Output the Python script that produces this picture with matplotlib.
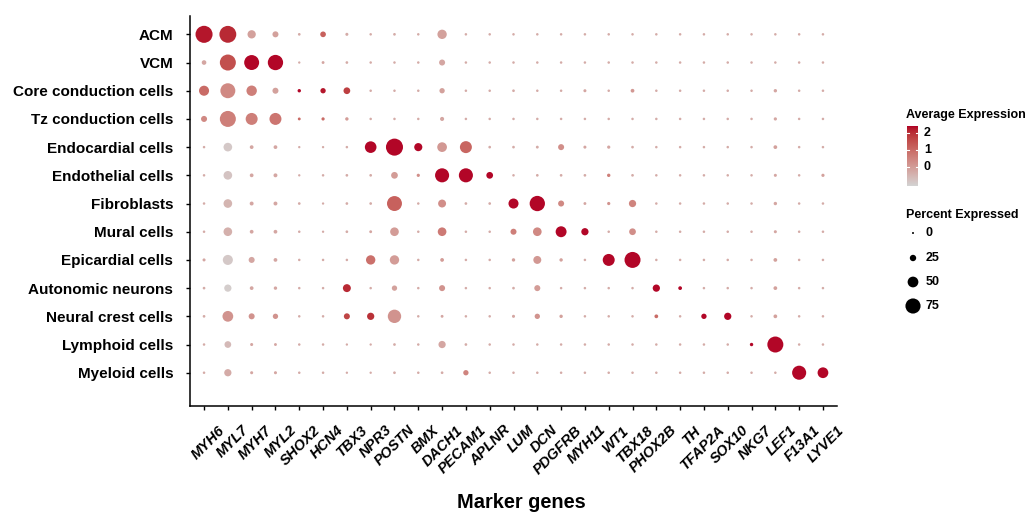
import numpy as np
import matplotlib
matplotlib.use("Agg")
import matplotlib.pyplot as plt
from matplotlib.colors import ListedColormap, Normalize
from matplotlib.transforms import ScaledTranslation, blended_transform_factory

plt.rcParams['font.family'] = ['Liberation Sans', 'DejaVu Sans']

genes = ["MYH6", "MYL7", "MYH7", "MYL2", "SHOX2", "HCN4", "TBX3", "NPR3", "POSTN", "BMX",
         "DACH1", "PECAM1", "APLNR", "LUM", "DCN", "PDGFRB", "MYH11", "WT1", "TBX18", "PHOX2B",
         "TH", "TFAP2A", "SOX10", "NKG7", "LEF1", "F13A1", "LYVE1"]
cell_types = ["ACM", "VCM", "Core conduction cells", "Tz conduction cells", "Endocardial cells",
              "Endothelial cells", "Fibroblasts", "Mural cells", "Epicardial cells",
              "Autonomic neurons", "Neural crest cells", "Lymphoid cells", "Myeloid cells"]

# Percent expressed per cell type (genes in order above)
pct_ACM = [86, 85, 36, 23, 4, 21, 6, 3, 4, 3, 42, 3, 3, 3, 3, 3, 3, 3, 3, 3, 3, 3, 3, 3, 3, 3, 3]
pct_VCM = [15, 80, 74, 76, 2, 5, 4, 3, 3, 3, 23, 3, 3, 3, 3, 3, 3, 3, 3, 3, 3, 3, 3, 3, 3, 3, 3]
pct_Core = [46, 74, 48, 23, 8, 19, 27, 3, 3, 3, 19, 3, 3, 4, 3, 3, 6, 3, 10, 3, 3, 3, 3, 3, 8, 3, 3]
pct_Tz = [23, 80, 57, 57, 5, 7, 8, 3, 3, 3, 12, 3, 3, 3, 3, 3, 3, 3, 3, 3, 3, 3, 3, 3, 7, 3, 3]
pct_Endocardial = [3, 38, 10, 10, 2, 2, 3, 55, 86, 35, 44, 57, 4, 4, 5, 23, 6, 7, 4, 3, 3, 3, 3, 3, 10, 3, 3]
pct_Endothelial = [3, 38, 10, 11, 2, 3, 4, 4, 27, 7, 69, 69, 27, 3, 4, 4, 4, 8, 4, 3, 3, 3, 3, 3, 6, 3, 7]
pct_Fibro = [3, 38, 11, 11, 4, 2, 4, 4, 74, 3, 34, 4, 4, 46, 76, 23, 5, 7, 30, 3, 3, 3, 3, 3, 8, 3, 3]
pct_Mural = [3, 38, 10, 10, 3, 2, 4, 5, 38, 3, 38, 3, 3, 23, 38, 51, 30, 3, 27, 3, 3, 3, 3, 3, 6, 3, 3]
pct_Epicardial = [6, 46, 23, 10, 3, 3, 3, 42, 42, 3, 10, 3, 3, 8, 34, 8, 3, 57, 80, 3, 3, 3, 3, 3, 10, 3, 3]
pct_Autonomic = [4, 30, 10, 8, 3, 3, 34, 3, 19, 3, 23, 3, 3, 4, 23, 3, 3, 3, 3, 30, 10, 3, 3, 3, 10, 3, 3]
pct_NeuralCrest = [4, 50, 23, 19, 3, 3, 23, 30, 65, 3, 5, 3, 3, 6, 19, 8, 3, 3, 3, 10, 3, 19, 30, 3, 10, 3, 3]
pct_Lymphoid = [3, 27, 6, 5, 3, 3, 2, 2, 4, 3, 30, 4, 3, 3, 3, 3, 3, 3, 3, 3, 3, 3, 3, 8, 80, 3, 3]
pct_Myeloid = [3, 30, 6, 6, 3, 3, 2, 2, 4, 3, 4, 19, 3, 3, 3, 3, 3, 3, 3, 3, 3, 3, 3, 3, 3, 69, 50]

# Average expression (scaled) per cell type
avg_ACM = [2.3, 2.1, -0.1, -0.1, -0.3, 1.2, -0.3, -0.3, -0.3, -0.3, -0.1, -0.3, -0.3, -0.3, -0.3, -0.3, -0.3, -0.3, -0.3, -0.3, -0.3, -0.3, -0.3, -0.3, -0.3, -0.3, -0.3]
avg_VCM = [-0.2, 1.5, 2.4, 2.4, -0.3, -0.2, -0.3, -0.3, -0.3, -0.3, -0.2, -0.3, -0.3, -0.3, -0.3, -0.3, -0.3, -0.3, -0.3, -0.3, -0.3, -0.3, -0.3, -0.3, -0.3, -0.3, -0.3]
avg_Core = [1.0, 0.4, 0.6, -0.1, 2.4, 2.3, 1.8, -0.3, -0.3, -0.3, -0.1, -0.3, -0.3, -0.3, -0.3, -0.3, -0.2, -0.3, 0.1, -0.3, -0.3, -0.3, -0.3, -0.3, -0.2, -0.3, -0.3]
avg_Tz = [0.4, 0.6, 0.6, 0.8, 1.0, 1.0, 0.0, -0.3, -0.3, -0.3, -0.2, -0.3, -0.3, -0.3, -0.3, -0.3, -0.3, -0.3, -0.3, -0.3, -0.3, -0.3, -0.3, -0.3, -0.2, -0.3, -0.3]
avg_Endocardial = [-0.3, -0.9, -0.2, -0.2, -0.3, -0.3, -0.3, 2.4, 2.4, 2.4, 0.1, 1.1, -0.3, -0.3, -0.3, 0.3, -0.2, -0.2, -0.3, -0.3, -0.3, -0.3, -0.3, -0.3, -0.1, -0.3, -0.3]
avg_Endothelial = [-0.3, -0.8, -0.2, -0.2, -0.3, -0.3, -0.3, -0.3, 0.0, 0.3, 2.4, 2.4, 2.4, -0.3, -0.3, -0.3, -0.3, 0.6, -0.3, -0.3, -0.3, -0.3, -0.3, -0.3, -0.2, -0.3, -0.1]
avg_Fibro = [-0.3, -0.5, -0.2, -0.2, -0.3, -0.3, -0.3, -0.3, 1.2, -0.3, 0.3, -0.3, -0.3, 2.4, 2.4, 0.4, -0.2, 0.2, 0.5, -0.3, -0.3, -0.3, -0.3, -0.3, -0.2, -0.3, -0.3]
avg_Mural = [-0.3, -0.4, -0.2, -0.2, -0.3, -0.3, -0.3, -0.2, 0.0, -0.3, 0.7, -0.3, -0.3, 0.6, 0.4, 2.4, 2.4, -0.3, 0.3, -0.3, -0.3, -0.3, -0.3, -0.3, -0.2, -0.3, -0.3]
avg_Epicardial = [-0.2, -0.9, -0.2, -0.2, -0.3, -0.3, -0.3, 0.9, 0.0, -0.3, 0.0, -0.3, -0.3, -0.1, 0.1, -0.1, -0.3, 2.4, 2.4, -0.3, -0.3, -0.3, -0.3, -0.3, -0.1, -0.3, -0.3]
avg_Autonomic = [-0.3, -1.0, -0.2, -0.2, -0.3, -0.3, 2.1, -0.3, -0.1, -0.3, 0.2, -0.3, -0.3, -0.3, 0.0, -0.3, -0.3, -0.3, -0.3, 2.4, 2.4, -0.3, -0.3, -0.3, -0.1, -0.3, -0.3]
avg_NeuralCrest = [-0.3, 0.2, 0.2, 0.2, -0.3, -0.3, 1.7, 2.0, 0.2, -0.3, -0.2, -0.3, -0.3, -0.2, 0.2, -0.1, -0.3, -0.3, -0.3, 1.0, -0.3, 2.4, 2.4, -0.3, -0.1, -0.3, -0.3]
avg_Lymphoid = [-0.3, -0.6, -0.2, -0.2, -0.3, -0.3, -0.3, -0.3, -0.3, -0.3, -0.2, -0.3, -0.3, -0.3, -0.3, -0.3, -0.3, -0.3, -0.3, -0.3, -0.3, -0.3, -0.3, 2.4, 2.4, -0.3, -0.3]
avg_Myeloid = [-0.3, -0.3, -0.2, -0.2, -0.3, -0.3, -0.3, -0.3, -0.3, -0.3, -0.3, 0.5, -0.3, -0.3, -0.3, -0.3, -0.3, -0.3, -0.3, -0.3, -0.3, -0.3, -0.3, -0.3, -0.3, 2.4, 2.4]

pct_all = np.array([pct_ACM, pct_VCM, pct_Core, pct_Tz, pct_Endocardial, pct_Endothelial, pct_Fibro,
                    pct_Mural, pct_Epicardial, pct_Autonomic, pct_NeuralCrest, pct_Lymphoid, pct_Myeloid], float)
avg_all = np.array([avg_ACM, avg_VCM, avg_Core, avg_Tz, avg_Endocardial, avg_Endothelial, avg_Fibro,
                    avg_Mural, avg_Epicardial, avg_Autonomic, avg_NeuralCrest, avg_Lymphoid, avg_Myeloid], float)

size_breaks = [0, 25, 50, 75]
color_breaks = [0, 1, 2]
vmin, vmax = -1.13, 2.43

# ---- Lab-interpolated colormap (lightgrey -> dark red), like ggplot's gradient ----
def hex2rgb(h):
    h = h.lstrip('#')
    return np.array([int(h[i:i + 2], 16) / 255 for i in (0, 2, 4)])

M = np.array([[0.4124, 0.3576, 0.1805], [0.2126, 0.7152, 0.0722], [0.0193, 0.1192, 0.9505]])
WP = np.array([0.95047, 1.0, 1.08883])

def rgb2lab(c):
    lin = np.where(c <= 0.04045, c / 12.92, ((c + 0.055) / 1.055) ** 2.4)
    xyz = M @ lin / WP
    f = np.where(xyz > 0.008856, np.cbrt(xyz), 7.787 * xyz + 16 / 116)
    return np.array([116 * f[1] - 16, 500 * (f[0] - f[1]), 200 * (f[1] - f[2])])

def lab2rgb(lab):
    fy = (lab[0] + 16) / 116
    fx = fy + lab[1] / 500
    fz = fy - lab[2] / 200
    f = np.array([fx, fy, fz])
    xyz = np.where(f ** 3 > 0.008856, f ** 3, (f - 16 / 116) / 7.787) * WP
    lin = np.linalg.solve(M, xyz)
    lin = np.clip(lin, 0, 1)
    return np.clip(np.where(lin <= 0.0031308, 12.92 * lin, 1.055 * lin ** (1 / 2.4) - 0.055), 0, 1)

lo, hi = rgb2lab(hex2rgb("#D3D3D3")), rgb2lab(hex2rgb("#B10026"))
cols = [lab2rgb(lo + (hi - lo) * t) for t in np.linspace(0, 1, 256)]
cmap = ListedColormap(cols)
norm = Normalize(vmin, vmax)

W, H, DPI = 1031, 518, 100
PT = 72 / DPI

def dot_s(p):
    d_px = 2.0 + 0.175 * np.asarray(p, float)
    return (d_px * PT) ** 2

fig = plt.figure(figsize=(W / DPI, H / DPI), dpi=DPI)
fig.patch.set_facecolor("white")

L, R, T, B = 190, 837, 16, 406
ax = fig.add_axes([L / W, 1 - B / H, (R - L) / W, (B - T) / H])

nr, nc = pct_all.shape
xx, yy = np.meshgrid(np.arange(nc), np.arange(nr))
ax.scatter(xx.ravel(), yy.ravel(), s=dot_s(pct_all.ravel()), c=avg_all.ravel(),
           cmap=cmap, norm=norm, linewidths=0, zorder=3)

ax.set_xlim(-0.59, nc - 1 + 0.59)
ax.set_ylim(nr - 1 + 1.18, -0.65)
ax.set_xticks(range(nc))
ax.set_xticklabels([])
# rotated gene labels, anchored below each tick (ggplot angle=45, hjust=1 style)
xlab_tr = blended_transform_factory(ax.transData, ax.transAxes) + \
    ScaledTranslation(13.5 / DPI, -17 / DPI, fig.dpi_scale_trans)
for i, g in enumerate(genes):
    ax.text(i, 0, g, transform=xlab_tr, rotation=45, rotation_mode="anchor",
            ha="right", va="top", fontsize=10.5, fontweight="bold", fontstyle="italic",
            clip_on=False)
ax.set_yticks(range(nr))
ax.set_yticklabels(cell_types, fontsize=11, fontweight="bold")
ax.tick_params(axis="both", length=3, width=1, color="black", pad=3)
ax.tick_params(axis="y", pad=9)
for s in ["top", "right"]:
    ax.spines[s].set_visible(False)
for s in ["left", "bottom"]:
    ax.spines[s].set_linewidth(1.1)

fig.text(521 / W, 1 - 503 / H, "Marker genes", fontsize=14.4, fontweight="bold",
         ha="center", va="center")

# ---- Colour legend ----
cb_l, cb_r, cb_t, cb_b = 907, 918, 126, 186
cax = fig.add_axes([cb_l / W, 1 - cb_b / H, (cb_r - cb_l) / W, (cb_b - cb_t) / H])
grad = np.linspace(vmin, vmax, 200).reshape(-1, 1)
cax.imshow(grad, aspect="auto", cmap=cmap, norm=norm, origin="lower",
           extent=[0, 1, vmin, vmax])
cax.set_xlim(0, 1)
cax.set_ylim(vmin, vmax)
for v in color_breaks:
    cax.plot([0, 0.2], [v, v], color="white", lw=0.8)
    cax.plot([0.8, 1], [v, v], color="white", lw=0.8)
cax.set_axis_off()

# overlay axes in pixel coords for legend text / keys
lax = fig.add_axes([0, 0, 1, 1])
lax.set_xlim(0, W)
lax.set_ylim(H, 0)
lax.set_axis_off()
lax.text(906, 115, "Average Expression", fontsize=9, fontweight="bold", va="center", ha="left")
for v in color_breaks:
    ypix = cb_b - (v - vmin) / (vmax - vmin) * (cb_b - cb_t)
    lax.text(924, ypix, str(v), fontsize=9, fontweight="bold", va="center", ha="left")

lax.text(906, 215, "Percent Expressed", fontsize=9, fontweight="bold", va="center", ha="left")
leg_y = [233, 258, 282, 306]
lax.scatter([913] * len(size_breaks), leg_y, s=dot_s(size_breaks), color="black", linewidths=0)
for v, yv in zip(size_breaks, leg_y):
    lax.text(926, yv, str(v), fontsize=9, fontweight="bold", va="center", ha="left")

fig.savefig("out.png", dpi=DPI, facecolor="white")
